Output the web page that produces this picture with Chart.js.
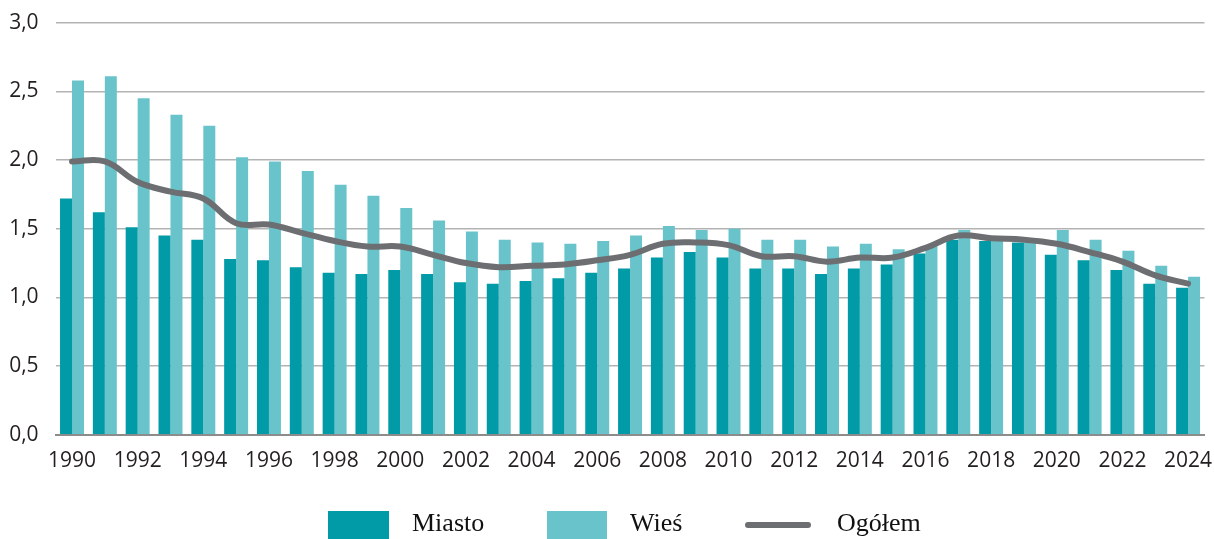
<!DOCTYPE html>
<html>
<head>
<meta charset="utf-8">
<script src="https://cdn.jsdelivr.net/npm/chart.js@4/dist/chart.umd.min.js"></script>
<style>
  html, body { margin:0; padding:0; background:#fff; width:1214px; height:539px; overflow:hidden; }
  #wrap { position:relative; width:1214px; height:539px; }
  #c { position:absolute; left:0; top:0; }
  .lg { position:absolute; font-family:"Liberation Serif","Times New Roman",serif; font-size:26px; line-height:26px; color:#111; white-space:nowrap; }
  .box { position:absolute; }
</style>
</head>
<body>
<div id="wrap">
  <canvas id="c" width="1214" height="539"></canvas>
  <div class="box" style="left:328px;top:511px;width:61px;height:30px;background:#009ba6"></div>
  <div class="lg" style="left:412px;top:510px">Miasto</div>
  <div class="box" style="left:547px;top:511px;width:60px;height:30px;background:#68c4ca"></div>
  <div class="lg" style="left:630px;top:510px">Wieś</div>
  <div class="box" style="left:745px;top:522px;width:66px;height:6px;border-radius:3px;background:#6d6e71"></div>
  <div class="lg" style="left:837px;top:510px">Ogółem</div>
</div>
<script>
const years = ["1990","1991","1992","1993","1994","1995","1996","1997","1998","1999",
  "2000","2001","2002","2003","2004","2005","2006","2007","2008","2009",
  "2010","2011","2012","2013","2014","2015","2016","2017","2018","2019",
  "2020","2021","2022","2023","2024"];
const miasto = [1.72,1.62,1.51,1.45,1.42,1.28,1.27,1.22,1.18,1.17,
  1.20,1.17,1.11,1.10,1.12,1.14,1.18,1.21,1.29,1.33,
  1.29,1.21,1.21,1.17,1.21,1.24,1.32,1.42,1.41,1.40,
  1.31,1.27,1.20,1.10,1.07];
const wies = [2.58,2.61,2.45,2.33,2.25,2.02,1.99,1.92,1.82,1.74,
  1.65,1.56,1.48,1.42,1.40,1.39,1.41,1.45,1.52,1.49,
  1.50,1.42,1.42,1.37,1.39,1.35,1.38,1.49,1.42,1.40,
  1.49,1.42,1.34,1.23,1.15];
const ogolem = [1.99,1.99,1.84,1.77,1.72,1.54,1.53,1.47,1.41,1.37,
  1.37,1.31,1.25,1.22,1.23,1.24,1.27,1.31,1.39,1.40,
  1.38,1.30,1.30,1.26,1.29,1.29,1.36,1.45,1.43,1.42,
  1.39,1.33,1.26,1.16,1.10];
const yTicks = [0, 0.5, 1.0, 1.5, 2.0, 2.5, 3.0];

const tickFont = { family: "'Open Sans', sans-serif", size: 21 };
new Chart(document.getElementById('c'), {
  data: {
    labels: years,
    datasets: [
      { type:'line', label:'Ogółem', data: ogolem, borderColor:'#6d6e71', borderWidth:6,
        pointRadius:0, tension:0.4, borderCapStyle:'round', borderJoinStyle:'round', order:0 },
      { type:'bar', label:'Miasto', data: miasto, backgroundColor:'#009ba6',
        categoryPercentage:0.73, barPercentage:1.0, order:1 },
      { type:'bar', label:'Wieś', data: wies, backgroundColor:'#68c4ca',
        categoryPercentage:0.73, barPercentage:1.0, order:1 }
    ]
  },
  options: {
    responsive:false, animation:false,
    layout: { padding: { left:0, right:9.5, top:22.7, bottom:50 } },
    plugins: { legend:{ display:false }, tooltip:{ enabled:false } },
    scales: {
      x: {
        grid: { display:false, drawTicks:false },
        border: { display:true, color:'#8c8c8c', width:2 },
        ticks: { color:'#231f20', font: tickFont, padding:14, maxRotation:0, autoSkip:false,
          callback: function(v, i){ return i % 2 === 0 ? years[i] : ''; } },
        afterFit: function(s){ s.height = 54.3; s.paddingLeft = 0; s.paddingRight = 0; }
      },
      y: {
        min:0, max:3,
        afterBuildTicks: function(s){ s.ticks = yTicks.map(v => ({ value: v })); },
        grid: { color:'#b3b3b3', lineWidth:1.5, drawTicks:false },
        border: { display:false },
        ticks: { color:'#231f20', font: tickFont, padding:17,
          callback: function(v){ return v.toFixed(1).replace('.', ','); } },
        afterFit: function(s){ s.width = 55.6; s.paddingTop = 0; s.paddingBottom = 0; }
      }
    }
  }
});
</script>
</body>
</html>
